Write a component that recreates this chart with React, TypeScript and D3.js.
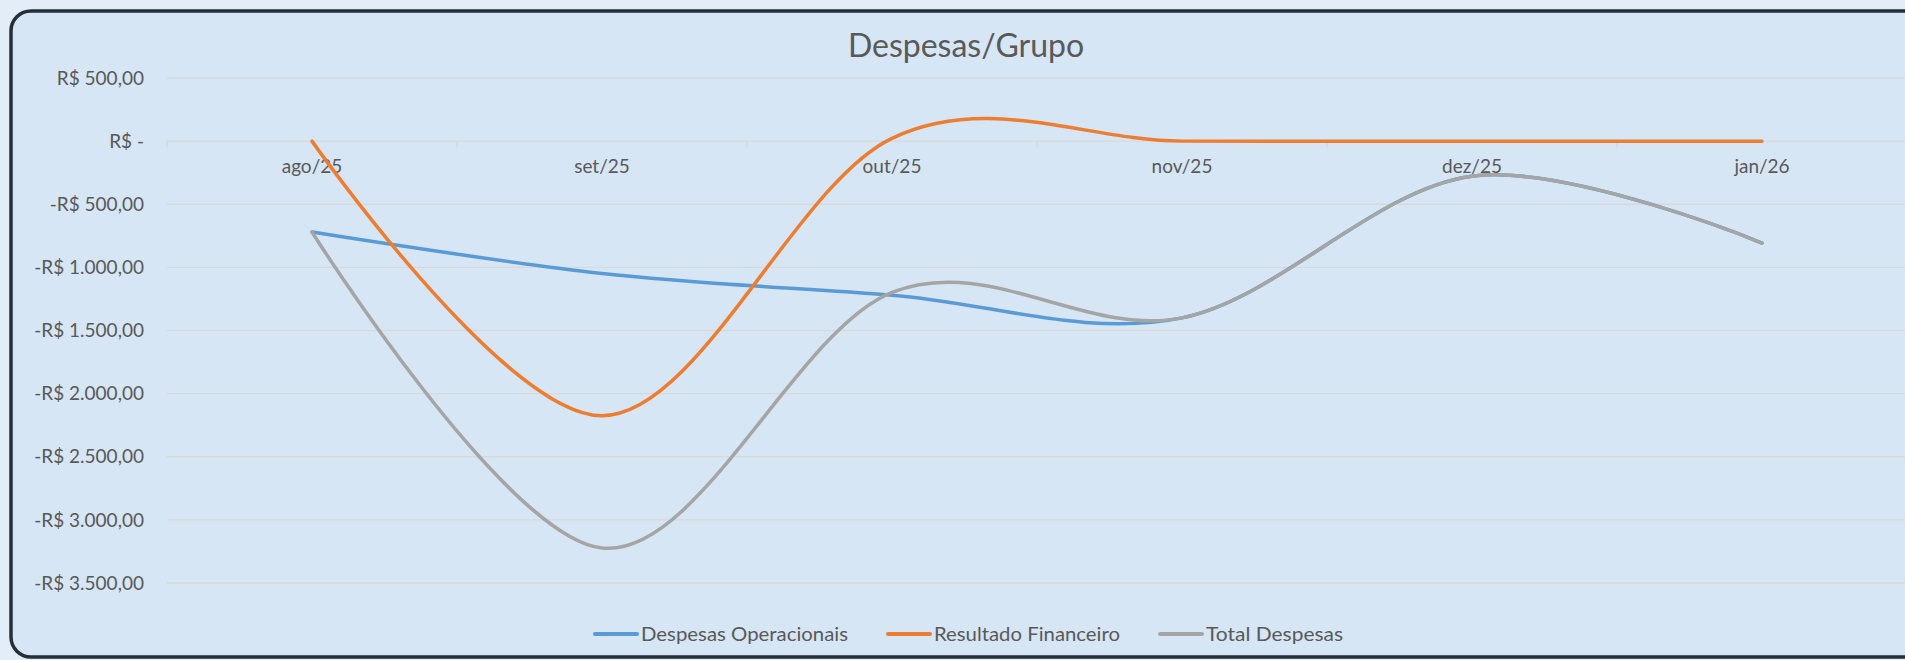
import * as d3 from "d3";
import React, { useRef, useEffect } from "react";

const categories = ["ago/25", "set/25", "out/25", "nov/25", "dez/25", "jan/26"];
const despesasOperacionais = [-720, -1048, -1220, -1400, -278, -807];
const resultadoFinanceiro = [0, -2175, 22, 0, 0, 0];
const totalDespesas = [-720, -3223, -1198, -1400, -278, -807];
const yTicks = [500, 0, -500, -1000, -1500, -2000, -2500, -3000, -3500];
const seriesNames = ["Despesas Operacionais", "Resultado Financeiro", "Total Despesas"];

const W = 1905;
const H = 660;
const FONT = "Lato, 'Open Sans', sans-serif";
const TEXT_COLOR = "#595959";
const GRID_COLOR = "#d9d9d9";
const COLORS = ["#5b9bd5", "#ed7d31", "#a5a5a5"];

const fmtBRL = (v: number) => {
  if (v === 0) return "R$ -";
  const s = d3.format(",.2f")(Math.abs(v)).replace(/,/g, "#").replace(".", ",").replace(/#/g, ".");
  return (v < 0 ? "-R$ " : "R$ ") + s;
};

const draw = (node: SVGSVGElement) => {
  const svg = d3.select(node);
  svg.selectAll("*").remove();

  // page + card
  svg.append("rect").attr("width", W).attr("height", H).attr("fill", "#e3edf8");
  svg
    .append("rect")
    .attr("x", 11)
    .attr("y", 11)
    .attr("width", W + 40)
    .attr("height", 646)
    .attr("rx", 20)
    .attr("fill", "#d6e6f5")
    .attr("stroke", "#252e39")
    .attr("stroke-width", 3.5);

  const plotLeft = 167;
  const bandW = 290;

  const x = d3
    .scaleBand()
    .domain(categories)
    .range([plotLeft, plotLeft + bandW * categories.length]);

  const y = d3.scaleLinear().domain([-3500, 500]).range([583, 78]);

  const xc = (i: number) => (x(categories[i]) as number) + x.bandwidth() / 2;

  // title
  svg
    .append("text")
    .attr("x", 966)
    .attr("y", 57)
    .attr("text-anchor", "middle")
    .style("font-family", FONT)
    .style("font-size", "32px")
    .style("fill", TEXT_COLOR)
    .text("Despesas/Grupo");

  // gridlines + y labels
  const gGrid = svg.append("g");
  yTicks.forEach((t) => {
    gGrid
      .append("line")
      .attr("x1", plotLeft)
      .attr("x2", W)
      .attr("y1", y(t))
      .attr("y2", y(t))
      .attr("stroke", GRID_COLOR)
      .attr("stroke-width", 1.3);
    gGrid
      .append("text")
      .attr("x", 144)
      .attr("y", y(t))
      .attr("dy", "0.35em")
      .attr("text-anchor", "end")
      .style("font-family", FONT)
      .style("font-size", "19px")
      .style("fill", TEXT_COLOR)
      .text(fmtBRL(t));
  });

  // category ticks at zero line
  const boundaries = d3.range(categories.length + 1).map((i) => plotLeft + i * x.bandwidth());
  boundaries.forEach((b) => {
    gGrid
      .append("line")
      .attr("x1", b)
      .attr("x2", b)
      .attr("y1", y(0))
      .attr("y2", y(0) + 6)
      .attr("stroke", GRID_COLOR)
      .attr("stroke-width", 1.3);
  });

  // category labels
  categories.forEach((c, i) => {
    svg
      .append("text")
      .attr("x", xc(i))
      .attr("y", 173)
      .attr("text-anchor", "middle")
      .style("font-family", FONT)
      .style("font-size", "19px")
      .style("fill", TEXT_COLOR)
      .text(c);
  });

  // lines
  const line = d3
    .line<number>()
    .x((d, i) => xc(i))
    .y((d) => y(d))
    .curve(d3.curveCardinal.tension(0));

  [despesasOperacionais, resultadoFinanceiro, totalDespesas].forEach((s, k) => {
    svg
      .append("path")
      .datum(s)
      .attr("d", line)
      .style("fill", "none")
      .style("stroke", COLORS[k])
      .style("stroke-width", "3.5px")
      .style("stroke-linecap", "round")
      .style("stroke-linejoin", "round");
  });

  // legend
  const legendX = [595, 888, 1160];
  const legendW = [207, 186, 137];
  seriesNames.forEach((n, k) => {
    const g = svg.append("g").attr("transform", "translate(" + legendX[k] + ",634)");
    g.append("line")
      .attr("x1", 0)
      .attr("x2", 42)
      .attr("stroke", COLORS[k])
      .attr("stroke-width", 4)
      .attr("stroke-linecap", "round");
    g.append("text")
      .attr("x", 46)
      .attr("y", 7)
      .attr("textLength", legendW[k])
      .attr("lengthAdjust", "spacingAndGlyphs")
      .style("font-family", FONT)
      .style("font-size", "19px")
      .style("fill", TEXT_COLOR)
      .text(n);
  });
};

export default function App() {
  const ref = useRef<SVGSVGElement>(null);

  useEffect(() => {
    if (ref.current) draw(ref.current);
  }, []);

  return (
    <svg
      ref={ref}
      width={W}
      height={H}
      style={{ position: "absolute", left: 0, top: 0, display: "block" }}
    />
  );
}
